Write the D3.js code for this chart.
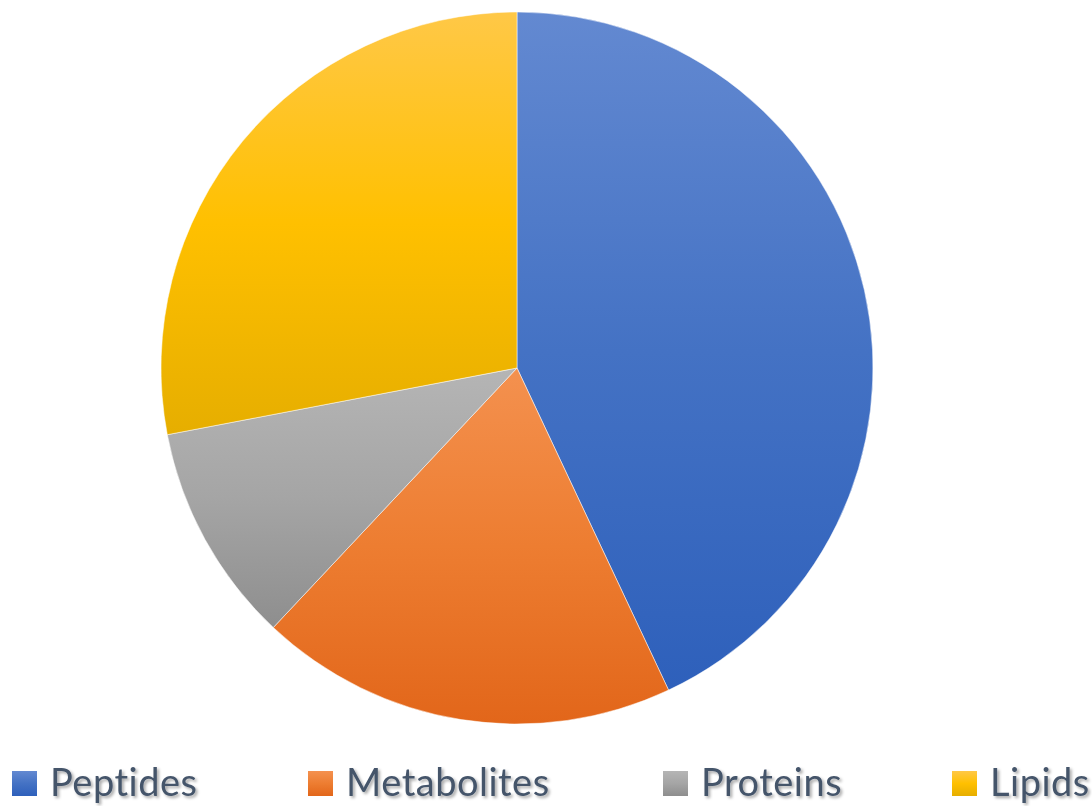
<!DOCTYPE html>
<html>
<head>
<meta charset="utf-8">
<script src="https://cdn.jsdelivr.net/npm/d3@7"></script>
<style>
  html, body { margin: 0; padding: 0; background: #fff; }
  svg { display: block; }
</style>
</head>
<body>
<svg id="chart" width="1092" height="806"></svg>
<script>
// Composition shares (percent), drawn clockwise from 12 o'clock
const categories = ["Peptides", "Metabolites", "Proteins", "Lipids"];
const shares = [43, 19, 10, 28];
// light / base / dark stops for each slice's vertical gradient
const lightColors = ["#6389D1", "#F4914F", "#B5B5B5", "#FFC847"];
const baseColors  = ["#4472C4", "#ED7D31", "#A5A5A5", "#FFC000"];
const darkColors  = ["#2E60BB", "#E2661A", "#8E8E8E", "#E6AE00"];

const svg = d3.select("#chart");
const cx = 517, cy = 368, radius = 356;

const defs = svg.append("defs");
categories.forEach((c, i) => {
  const g = defs.append("linearGradient")
    .attr("id", "grad" + i)
    .attr("x1", 0).attr("y1", 0).attr("x2", 0).attr("y2", 1);
  g.append("stop").attr("offset", "0%").attr("stop-color", lightColors[i]);
  g.append("stop").attr("offset", "50%").attr("stop-color", baseColors[i]);
  g.append("stop").attr("offset", "100%").attr("stop-color", darkColors[i]);
});

const shadow = defs.append("filter").attr("id", "textShadow")
  .attr("x", "-10%").attr("y", "-20%").attr("width", "130%").attr("height", "160%");
shadow.append("feDropShadow")
  .attr("dx", 2).attr("dy", 2).attr("stdDeviation", 1.4)
  .attr("flood-color", "#000").attr("flood-opacity", 0.35);

const pie = d3.pie().sort(null).value(d => d.v);
const arc = d3.arc().innerRadius(0).outerRadius(radius);
const data = categories.map((c, i) => ({ c, v: shares[i], i }));

svg.append("g")
  .attr("transform", `translate(${cx},${cy})`)
  .selectAll("path")
  .data(pie(data))
  .join("path")
  .attr("d", arc)
  .attr("fill", d => `url(#grad${d.data.i})`)
  .attr("stroke", "#fff")
  .attr("stroke-width", 0.5);

// Legend along the bottom
const legendX = { "Peptides": 12, "Metabolites": 308, "Proteins": 663, "Lipids": 952 };
const items = svg.append("g").selectAll("g")
  .data(data)
  .join("g")
  .attr("transform", d => `translate(${legendX[d.c]},771)`);

items.append("rect")
  .attr("width", 25).attr("height", 25)
  .attr("fill", d => `url(#grad${d.i})`);

items.append("text")
  .attr("x", 38).attr("y", 25)
  .attr("font-family", "Lato, 'Open Sans', sans-serif")
  .attr("font-size", 38)
  .attr("letter-spacing", 0.5)
  .style("font-variant-ligatures", "none")
  .attr("fill", "#44546A")
  .attr("filter", "url(#textShadow)")
  .text(d => d.c);
</script>
</body>
</html>
